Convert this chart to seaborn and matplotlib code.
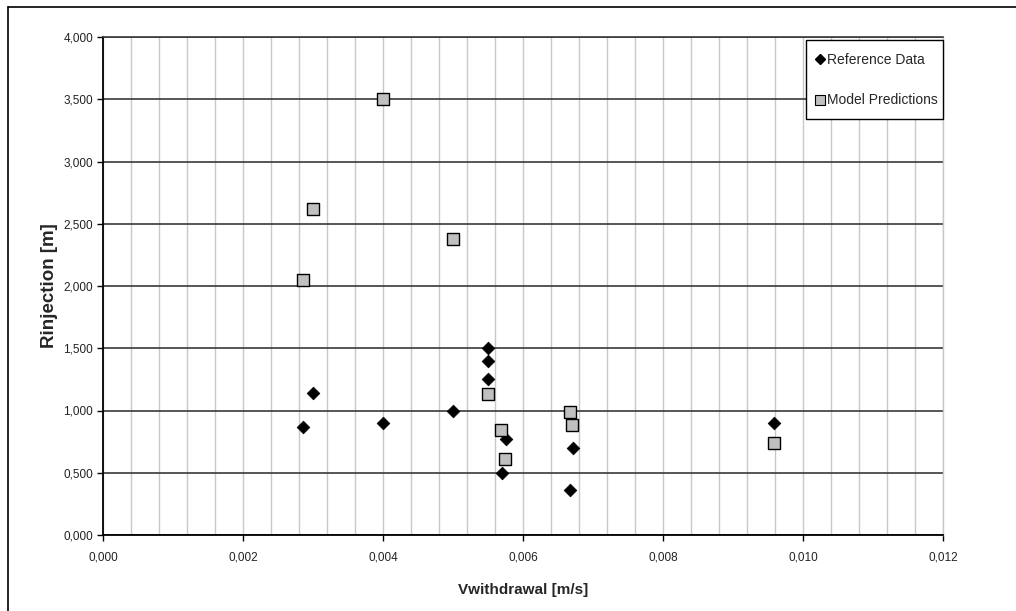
import matplotlib
matplotlib.use("Agg")
import matplotlib.pyplot as plt
from matplotlib.lines import Line2D
from matplotlib.patches import Rectangle
from matplotlib.ticker import MultipleLocator, FuncFormatter
import seaborn as sns
import pandas as pd

# Data
ref_x = [0.00286, 0.0030, 0.0040, 0.0050, 0.0055, 0.0055, 0.0055, 0.00575, 0.0057, 0.00671, 0.00667, 0.00959]
ref_y = [0.87, 1.14, 0.90, 1.00, 1.50, 1.40, 1.25, 0.77, 0.50, 0.70, 0.36, 0.90]
mod_x = [0.00286, 0.0030, 0.0040, 0.0050, 0.0055, 0.00569, 0.00574, 0.00667, 0.0067, 0.00959]
mod_y = [2.05, 2.62, 3.50, 2.375, 1.13, 0.84, 0.61, 0.99, 0.886, 0.737]

series_names = ["Reference Data", "Model Predictions"]
x_label = "Vwithdrawal [m/s]"
y_label = "Rinjection [m]"

df = pd.concat([
    pd.DataFrame({"x": ref_x, "y": ref_y, "series": series_names[0]}),
    pd.DataFrame({"x": mod_x, "y": mod_y, "series": series_names[1]}),
], ignore_index=True)

sns.set_style("white")
plt.rcParams["font.family"] = ["Liberation Sans", "DejaVu Sans"]

W, H = 1016, 611
fig = plt.figure(figsize=(W / 100, H / 100), dpi=100)
ax = fig.add_axes([103 / W, 1 - 535 / H, 840 / W, 498 / H])

sns.scatterplot(data=df[df.series == series_names[0]], x="x", y="y", ax=ax,
                marker="D", s=42, color="black", edgecolor="black",
                linewidth=0.5, zorder=4, legend=False)
sns.scatterplot(data=df[df.series == series_names[1]], x="x", y="y", ax=ax,
                marker="s", s=74, color="#c0c0c0", edgecolor="black",
                linewidth=1.0, zorder=4, legend=False)

ax.set_xlim(0, 0.012)
ax.set_ylim(0, 4.0)
ax.xaxis.set_major_locator(MultipleLocator(0.002))
ax.xaxis.set_minor_locator(MultipleLocator(0.0004))
ax.yaxis.set_major_locator(MultipleLocator(0.5))

ax.xaxis.set_major_formatter(FuncFormatter(lambda v, p: f"{v:.3f}".replace(".", ",")))
ax.yaxis.set_major_formatter(FuncFormatter(lambda v, p: f"{v:.3f}".replace(".", ",")))

ax.grid(False)
ax.set_axisbelow(True)
ax.xaxis.grid(True, which="minor", color="#c8c8c8", linewidth=1.0, zorder=0)
ax.xaxis.grid(True, which="major", color="#c8c8c8", linewidth=1.0, zorder=0)
ax.yaxis.grid(True, which="major", color="#3a3a3a", linewidth=1.2, zorder=1)

ax.tick_params(axis="both", which="major", direction="out", length=4, width=1,
               color="black", labelsize=8.5, labelcolor="#222222", pad=3,
               bottom=True, left=True)
ax.tick_params(axis="x", which="minor", length=0)
ax.tick_params(axis="x", pad=8)

for side in ["left", "bottom"]:
    ax.spines[side].set_color("black")
    ax.spines[side].set_linewidth(1.3)
ax.spines["top"].set_color("#3a3a3a")
ax.spines["top"].set_linewidth(1.2)
ax.spines["right"].set_color("#c8c8c8")
ax.spines["right"].set_linewidth(1.0)

ax.set_xlabel(x_label, fontsize=11, fontweight="bold", labelpad=14)
ax.set_ylabel(y_label, fontsize=13.5, fontweight="bold", labelpad=4)

# legend box (frame drawn separately to match the reference's padding)
frame = Rectangle((806 / W, 1 - 119 / H), 137 / W, 79 / H, transform=fig.transFigure,
                  facecolor="white", edgecolor="black", linewidth=1.0,
                  clip_on=False, zorder=9)
ax.add_patch(frame)

handles = [
    Line2D([], [], marker="D", linestyle="none", markersize=5.5,
           markerfacecolor="black", markeredgecolor="black", label=series_names[0]),
    Line2D([], [], marker="s", linestyle="none", markersize=6.5,
           markerfacecolor="#c0c0c0", markeredgecolor="black", markeredgewidth=0.8,
           label=series_names[1]),
]
leg = ax.legend(handles=handles, loc="upper left",
                bbox_to_anchor=(815.5 / W, 1 - 53 / H), bbox_transform=fig.transFigure,
                fontsize=10, frameon=False, borderpad=0, labelspacing=1.9,
                handlelength=0.6, handletextpad=0.2, borderaxespad=0)
leg.set_zorder(10)

# outer chart border (top and left edges visible)
fig.add_artist(Line2D([8 / W, 1.0], [1 - 7 / H, 1 - 7 / H], color="black", linewidth=1.2))
fig.add_artist(Line2D([8 / W, 8 / W], [0.0, 1 - 7 / H], color="black", linewidth=1.2))

fig.savefig("out.png", dpi=100)
